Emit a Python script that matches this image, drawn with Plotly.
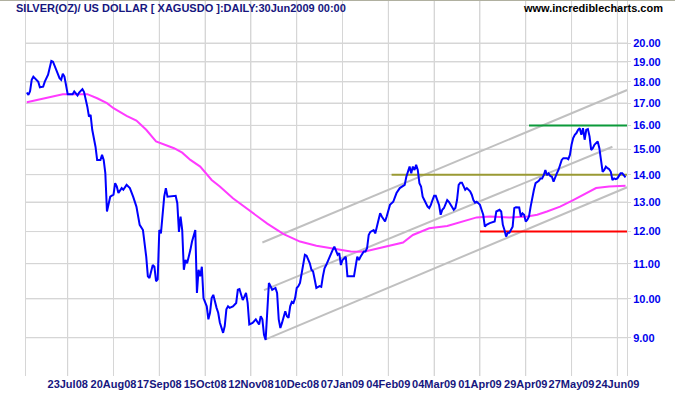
import plotly.graph_objects as go
import pandas as pd

# ---------------- data ----------------
BASE_DATE = "2008-07-23"   # day offsets below are counted from this date

price_days = [-25, -24, -23, -22, -21, -18, -17, -15, -14, -12, -10, -9, -7, -5, -4, -3, -2, -1,
              0, 3, 4, 6, 7, 9, 10, 12, 13, 14, 15, 17, 18, 20, 21, 22, 23, 24, 25, 26, 28, 29,
              30, 31, 33, 34, 36, 38, 40, 42, 44, 46, 48, 49, 50, 52, 53, 54, 55, 56, 57, 59,
              60, 61, 66, 67, 68, 69, 70, 71, 72, 73, 75, 76, 78, 79, 80, 81, 82, 83, 85, 86,
              87, 88, 89, 90, 91, 92, 93, 95, 96, 97, 98, 99, 101, 103, 104, 105, 106, 107, 108, 109,
              110, 111, 113, 115, 117, 118, 119, 120, 121, 122, 123, 124, 125, 127, 128, 129, 130, 131, 132, 133,
              134, 135, 136, 137, 138, 139, 140, 141, 142, 143, 144, 145, 146, 148, 149, 150, 151, 152, 154, 155,
              156, 157, 158, 160, 162, 163, 164, 165, 166, 167, 168, 170, 171, 172, 175, 177, 178, 179, 181, 182,
              183, 184, 185, 187, 188, 189, 190, 191, 192, 193, 194, 195, 196, 197, 199, 200, 201, 203, 205, 206,
              207, 208, 209, 210, 211, 212, 213, 214, 215, 216, 217, 218, 219, 220, 221, 222, 223, 224, 225, 226,
              227, 228, 229, 230, 231, 232, 233, 235, 236, 237, 238, 239, 240, 241, 243, 244, 245, 246, 247, 248,
              249, 250, 251, 252, 253, 254, 255, 256, 258, 259, 261, 262, 264, 265, 266, 267, 268, 269, 270, 272,
              273, 274, 276, 277, 278, 279, 280, 281, 282, 283, 284, 285, 286, 288, 289, 290, 291, 292, 293, 294,
              295, 296, 297, 298, 299, 300, 301, 302, 303, 305, 306, 307, 308, 309, 310, 311, 312, 313, 314, 315,
              316, 317, 318, 319, 320, 321, 322, 323, 324, 325, 326, 327, 328, 329, 330, 331, 332, 333, 334, 335,
              336, 337, 338, 339, 340, 341]
price_vals = [17.49, 17.38, 17.55, 18.10, 18.26, 18.01, 17.74, 17.77, 18.01, 18.35, 19.05, 19.01, 18.60, 18.18, 18.10, 18.40, 18.26, 17.77,
              17.41, 17.41, 17.54, 17.35, 17.49, 17.65, 17.51, 16.83, 16.39, 16.46, 15.81, 15.10, 14.57, 14.57, 14.77, 14.57, 14.06, 12.67, 12.96, 13.19, 13.26, 13.68,
              13.56, 13.32, 13.50, 13.44, 13.62, 13.50, 13.19, 12.84, 12.22, 12.05, 11.21, 10.63, 10.58, 10.96, 10.91, 10.49, 10.54, 12.05, 11.94, 13.19,
              13.50, 13.19, 13.22, 12.96, 11.99, 12.50, 12.05, 10.82, 11.11, 11.01, 11.42, 11.68, 12.05, 10.16, 10.82, 10.63, 10.91, 10.02, 9.80, 9.46,
              9.63, 10.02, 10.11, 9.89, 9.76, 9.63, 9.38, 9.12, 9.29, 9.72, 9.80, 9.76, 9.80, 9.89, 10.25, 10.27, 10.11, 9.97, 10.06, 10.16,
              9.89, 9.33, 9.37, 9.46, 9.33, 9.54, 9.46, 9.07, 8.95, 9.63, 10.44, 10.35, 10.25, 10.30, 10.16, 9.46, 9.24, 9.37, 9.54, 9.67,
              9.54, 9.50, 9.80, 9.92, 9.89, 10.02, 10.30, 10.35, 10.44, 10.73, 10.96, 11.27, 11.24, 11.01, 10.82, 10.77, 10.54, 10.30, 10.35, 10.33,
              10.63, 10.86, 10.96, 11.21, 11.42, 11.52, 11.37, 11.27, 11.32, 10.96, 11.11, 11.21, 10.63, 10.63, 10.63, 11.21, 11.11, 11.21, 11.37, 11.37,
              11.47, 11.89, 11.99, 12.05, 11.94, 12.16, 12.39, 12.61, 12.50, 12.39, 12.33, 12.50, 12.73, 12.90, 13.01, 13.19, 13.32, 13.50, 13.56, 13.62,
              13.92, 14.11, 14.31, 14.05, 14.31, 14.18, 14.38, 14.18, 13.68, 13.56, 13.19, 13.07, 12.96, 12.84, 12.79, 12.90, 13.07, 13.22, 13.22, 13.07,
              12.90, 12.56, 12.73, 12.79, 12.96, 13.07, 13.01, 12.79, 12.73, 12.79, 13.07, 13.62, 13.70, 13.70, 13.44, 13.50, 13.44, 13.38, 13.26, 13.07,
              12.98, 13.01, 12.96, 12.90, 12.73, 12.56, 12.16, 12.22, 12.28, 12.30, 12.33, 12.67, 12.73, 12.67, 12.22, 12.05, 11.84, 11.96, 11.96, 12.16,
              12.79, 12.82, 12.81, 12.50, 12.61, 12.56, 12.33, 12.39, 12.50, 12.84, 13.19, 13.44, 13.68, 13.77, 13.86, 13.86, 13.98, 14.18, 13.98, 14.05,
              13.95, 13.92, 13.74, 13.92, 14.05, 14.18, 14.38, 14.57, 14.64, 14.64, 14.60, 14.77, 15.18, 15.46, 15.60, 15.67, 15.81, 15.88, 15.60, 15.88,
              15.39, 15.81, 15.84, 15.53, 14.97, 15.04, 15.18, 15.27, 15.32, 15.04, 14.57, 14.11, 14.18, 14.31, 14.25, 14.21, 14.11, 13.80, 13.86, 13.83,
              13.86, 13.98, 14.05, 14.05, 13.95, 13.90]

ma_days = [-25, -17, -9, -3, 12, 18, 24, 28, 36, 42, 48, 54, 65, 70, 75, 81, 88, 93, 101, 111,
           122, 132, 142, 152, 162, 173, 181, 188, 197, 205, 211, 221, 232, 242, 250, 258, 270, 281, 287, 293,
           301, 309, 317, 323, 331, 341]
ma_vals = [17.03, 17.18, 17.33, 17.41, 17.41, 17.22, 16.99, 16.76, 16.42, 16.21, 15.81, 15.32, 15.04, 14.86, 14.57, 14.31, 13.80, 13.56, 13.13, 12.70,
           12.26, 11.92, 11.68, 11.55, 11.47, 11.37, 11.36, 11.45, 11.55, 11.65, 11.89, 12.11, 12.18, 12.33, 12.47, 12.50, 12.47, 12.50, 12.56, 12.67,
           12.84, 13.07, 13.32, 13.50, 13.56, 13.59]

channel_lower_days, channel_lower_vals = [121, 342], [8.96, 13.53]
channel_mid_days, channel_mid_vals = [120, 333], [10.24, 15.10]
channel_upper_days, channel_upper_vals = [119, 342], [11.65, 17.61]

resistance_green_days, resistance_green_val = [282, 342], 16.0
level_olive_days, level_olive_val = [198, 342], 14.0
support_red_days, support_red_val = [252, 342], 12.0

x_tick_dates = ["2008-07-23", "2008-08-20", "2008-09-17", "2008-10-15", "2008-11-12", "2008-12-10",
                "2009-01-07", "2009-02-04", "2009-03-04", "2009-04-01", "2009-04-29", "2009-05-27", "2009-06-24"]
y_tick_vals = [9, 10, 11, 12, 13, 14, 15, 16, 17, 18, 19, 20]
y_tick_text = ["%.2f" % v for v in y_tick_vals]

TITLE = "SILVER(OZ)/ US DOLLAR [ XAGUSDO ]:DAILY:30Jun2009 00:00"
SITE = "www.incrediblecharts.com"

# ---------------- helpers ----------------
base = pd.Timestamp(BASE_DATE)


def to_dates(days):
    return [(base + pd.Timedelta(days=float(d))).strftime("%Y-%m-%d %H:%M") for d in days]


FONT = "Liberation Sans, Arial, sans-serif"
NAVY = "#16167e"
GRID = "#d6d6d6"
Y_RANGE_LOG = [0.90927, 1.35162]
x_start, x_end = to_dates([-25.49, 341.9])
y_lo, y_hi = 10 ** Y_RANGE_LOG[0], 10 ** Y_RANGE_LOG[1]

fig = go.Figure()

# grid lines (thin traces beneath everything, at the tick values)
gx, gy = [], []
for t in x_tick_dates:
    gx += [t, t, None]
    gy += [y_lo, y_hi, None]
for v in y_tick_vals:
    gx += [x_start, x_end, None]
    gy += [v, v, None]
fig.add_trace(go.Scatter(x=gx, y=gy, mode="lines", line=dict(color=GRID, width=1),
                         hoverinfo="skip", showlegend=False, connectgaps=False))


def add_line(days, vals, color, width=2):
    fig.add_trace(go.Scatter(x=to_dates(days), y=vals, mode="lines",
                             line=dict(color=color, width=width), hoverinfo="skip",
                             showlegend=False))


add_line(channel_lower_days, channel_lower_vals, "#c0c0c0")
add_line(channel_mid_days, channel_mid_vals, "#c0c0c0")
add_line(channel_upper_days, channel_upper_vals, "#c0c0c0")
add_line(resistance_green_days, [resistance_green_val] * 2, "#0b9a3a")
add_line(level_olive_days, [level_olive_val] * 2, "#9a9a33")
add_line(support_red_days, [support_red_val] * 2, "#ff0000")
add_line(ma_days, ma_vals, "#ff3bff")
add_line(price_days, price_vals, "#0000ff")

fig.update_layout(
    template="none",
    width=675, height=395,
    margin=dict(l=26, r=48, t=0, b=19, autoexpand=False),
    paper_bgcolor="white", plot_bgcolor="white",
    showlegend=False,
    xaxis=dict(
        type="date", range=[x_start, x_end],
        tickmode="array", tickvals=x_tick_dates,
        tickformat="%d%b%y", tickangle=0, automargin=False,
        showgrid=True, gridcolor=GRID, gridwidth=1,
        zeroline=False, showline=False, ticks="",
        tickfont=dict(family=FONT, size=11, color=NAVY, weight="bold"),
    ),
    yaxis=dict(
        type="log", side="right", range=Y_RANGE_LOG, automargin=False,
        tickmode="array", tickvals=y_tick_vals, ticktext=y_tick_text,
        showgrid=True, gridcolor=GRID, gridwidth=1,
        showline=True, mirror=True, linecolor=GRID, linewidth=1,
        ticks="outside", ticklen=3, tickcolor=GRID,
        zeroline=False,
        tickfont=dict(family=FONT, size=11, color="#0000ee", weight="bold"),
    ),
    annotations=[
        dict(text=TITLE, xref="paper", yref="paper", x=-0.0195, y=1 - 8 / 376,
             xanchor="left", yanchor="middle", showarrow=False,
             font=dict(family=FONT, size=11, color=NAVY, weight="bold")),
        dict(text=SITE, xref="paper", yref="paper", x=(665 - 26) / 601, y=1 - 8 / 376,
             xanchor="right", yanchor="middle", showarrow=False,
             font=dict(family=FONT, size=11, color="black", weight="bold")),
    ],
    shapes=[
        dict(type="line", xref="paper", yref="paper", x0=-26 / 601, x1=649 / 601,
             y0=1 - 0.5 / 376, y1=1 - 0.5 / 376, line=dict(color="#b0b0a0", width=1)),
    ],
)

fig.write_html("out.html")
